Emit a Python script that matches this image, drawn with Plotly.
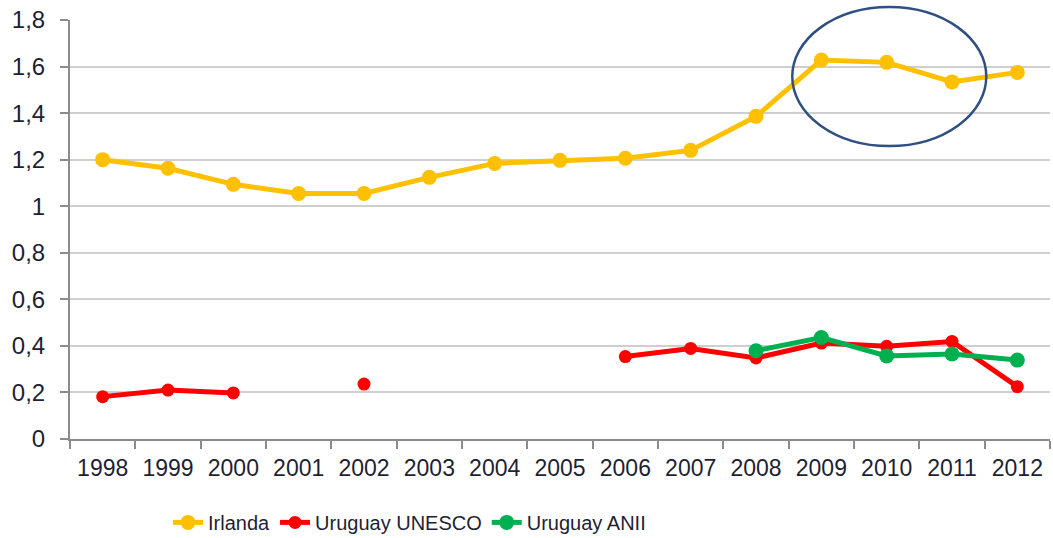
import plotly.graph_objects as go

years = ["1998", "1999", "2000", "2001", "2002", "2003", "2004", "2005",
         "2006", "2007", "2008", "2009", "2010", "2011", "2012"]
irlanda = [1.20, 1.163, 1.094, 1.055, 1.055, 1.124, 1.184, 1.197,
           1.206, 1.24, 1.386, 1.628, 1.618, 1.534, 1.575]
uruguay_unesco = [0.182, 0.21, 0.198, None, 0.236, None, None, None,
                  0.354, 0.389, 0.348, 0.412, 0.398, 0.419, 0.225]
uruguay_anii = [None, None, None, None, None, None, None, None,
                None, None, 0.379, 0.436, 0.357, 0.365, 0.339]
y_ticks = [0, 0.2, 0.4, 0.6, 0.8, 1, 1.2, 1.4, 1.6, 1.8]

FONT = "Liberation Sans, Arial, sans-serif"

fig = go.Figure()
fig.add_trace(go.Scatter(x=years, y=irlanda, name="Irlanda", mode="lines+markers",
                         line=dict(color="#FFC000", width=5),
                         marker=dict(color="#FFC000", size=15)))
fig.add_trace(go.Scatter(x=years, y=uruguay_unesco, name="Uruguay UNESCO", mode="lines+markers",
                         line=dict(color="#FF0000", width=5),
                         marker=dict(color="#FF0000", size=13), connectgaps=False))
fig.add_trace(go.Scatter(x=years, y=uruguay_anii, name="Uruguay ANII", mode="lines+markers",
                         line=dict(color="#00B050", width=5),
                         marker=dict(color="#00B050", size=15), connectgaps=False))

fig.add_shape(type="circle", xref="paper", yref="paper",
              x0=0.737, x1=0.935, y0=0.699, y1=1.031,
              line=dict(color="#2F5080", width=2.5), layer="above")

fig.update_layout(
    width=1053, height=538,
    margin=dict(l=70, r=3, t=20, b=99, autoexpand=False),
    paper_bgcolor="white", plot_bgcolor="white",
    separators=", ",
    font=dict(family=FONT, color="#1f1f33"),
    showlegend=True,
    legend=dict(orientation="h", x=0.100, xanchor="left", y=-0.199, yanchor="middle",
                font=dict(size=20, family=FONT, color="#1f1f33"),
                itemwidth=30, tracegroupgap=0),
    xaxis=dict(type="category", tickson="boundaries", ticks="outside", ticklen=8,
               tickcolor="#8c8c8c", tickwidth=2, showline=True, linecolor="#8c8c8c",
               linewidth=2, showgrid=False, tickfont=dict(size=23, family=FONT),
               tickangle=0, automargin=False, ticklabelstandoff=7,
               range=[-0.5, 14.5], fixedrange=True),
    yaxis=dict(range=[0, 1.8], tickvals=y_ticks, ticks="outside", ticklen=8,
               tickcolor="#8c8c8c", tickwidth=2, showline=True, linecolor="#8c8c8c",
               linewidth=2, showgrid=True, gridcolor="#cfcfcf", gridwidth=1.5,
               zeroline=False, tickfont=dict(size=24, family=FONT),
               ticklabelstandoff=10, automargin=False),
)

fig.write_html("out.html",
               config={"displayModeBar": False},
               post_script="document.body.style.margin='0';document.body.style.overflow='hidden';")
